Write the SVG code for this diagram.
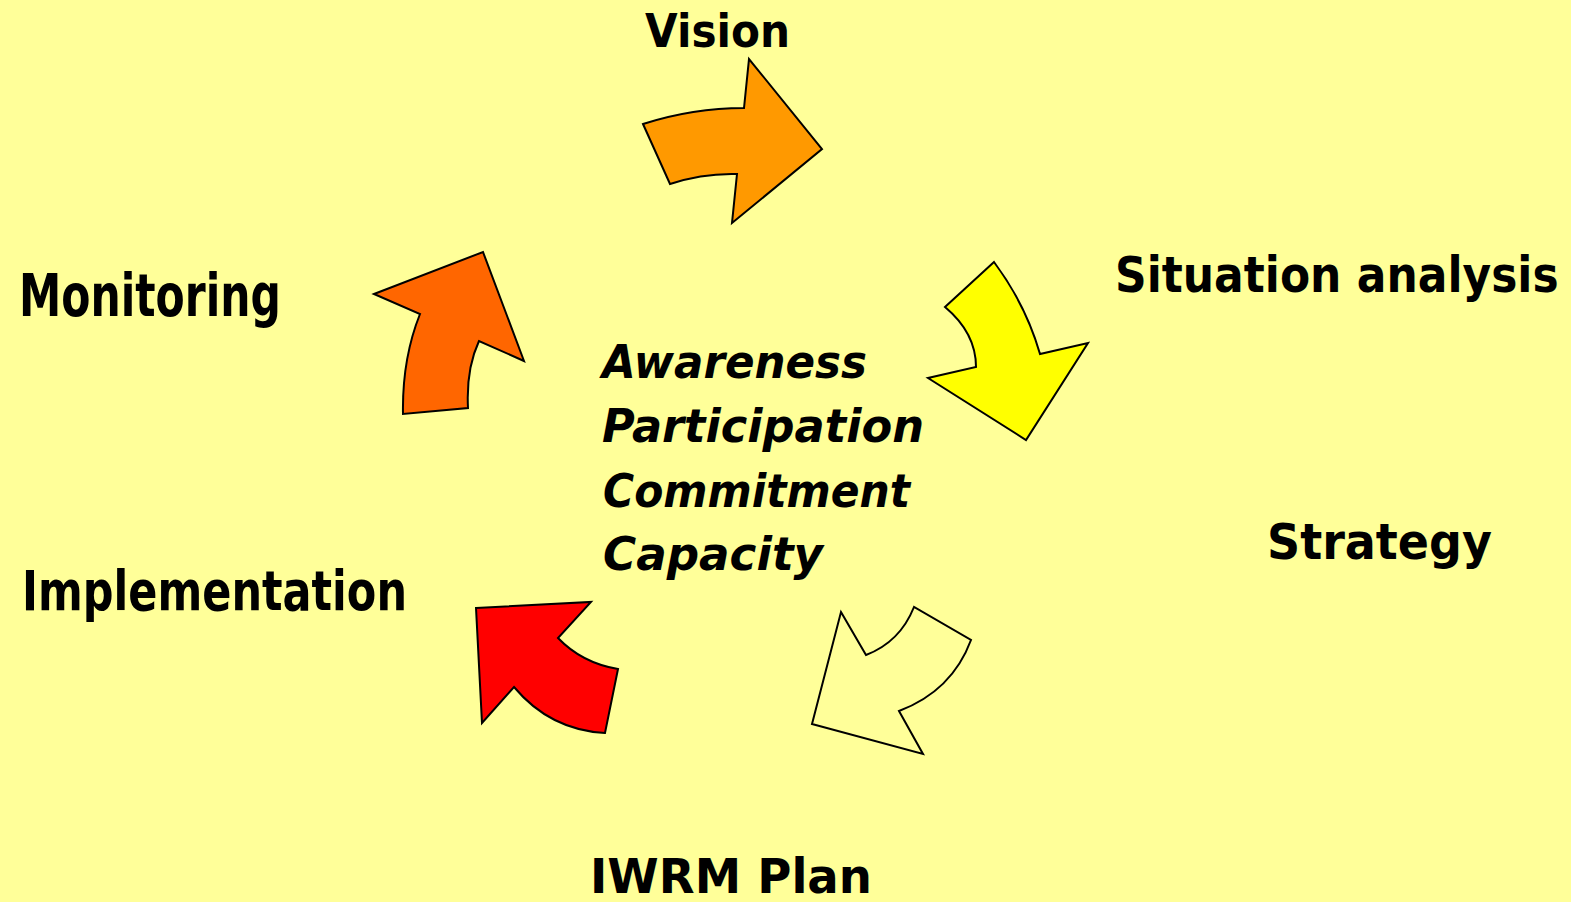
<svg xmlns="http://www.w3.org/2000/svg" width="1571" height="902" viewBox="0 0 1571 902">
<style>
.arr{stroke:#000;stroke-width:2;stroke-linejoin:miter}
.lbl{font-family:"DejaVu Sans","Liberation Sans",sans-serif;font-weight:bold;fill:#000}
.it{font-family:"DejaVu Sans","Liberation Sans",sans-serif;font-weight:bold;font-style:italic;fill:#000;font-size:46px}
</style>
<rect x="0" y="0" width="1571" height="902" fill="#FFFF99"/>
<g id="connectors">
<path id="arrow-vision" class="arr" fill="#FF9900" d="M643,124 Q693,108 744,108 L749,59 L822,149 L732,223 L737,174 Q703,173 670,184 Z"/>
<path id="arrow-situation" class="arr" fill="#FFFF00" d="M994,262 Q1026,305 1040,354 L1088,343 L1026,440 L928,378 L976,367 Q976,333 945,307 Z"/>
<path id="arrow-strategy" class="arr" fill="none" d="M841,612 L866,655 Q900,642 914,607 L971,640 Q952,691 899,711 L923,754 L812,724 Z"/>
<path id="arrow-plan" class="arr" fill="#FF0000" d="M476,608 L591,602 L558,638 Q582,663 618,669 L605,733 Q550,730 514,687 L482,723 Z"/>
<path id="arrow-implementation" class="arr" fill="#FF6600" d="M374,294 L483,252 L524,361 L479,341 Q466,369 468,408 L403,414 Q402,359 420,314 Z"/>
</g>
<g id="node-vision"><text class="lbl" x="645" y="47" font-size="46.6" textLength="145" lengthAdjust="spacingAndGlyphs">Vision</text></g>
<g id="node-situation"><text class="lbl" transform="translate(1115,292) scale(1,1.12)" x="0" y="0" font-size="44">Situation analysis</text></g>
<g id="node-strategy"><text class="lbl" x="1267" y="559" font-size="49.5" textLength="225" lengthAdjust="spacingAndGlyphs">Strategy</text></g>
<g id="node-plan"><text class="lbl" x="590" y="893" font-size="48" textLength="282" lengthAdjust="spacingAndGlyphs">IWRM Plan</text></g>
<g id="node-implementation"><text class="lbl" x="22" y="610" font-size="55" textLength="385" lengthAdjust="spacingAndGlyphs">Implementation</text></g>
<g id="node-monitoring"><text class="lbl" x="19" y="316" font-size="58" textLength="262" lengthAdjust="spacingAndGlyphs">Monitoring</text></g>
<g id="node-center">
<text class="it" x="602" y="378" textLength="265" lengthAdjust="spacingAndGlyphs">Awareness</text>
<text class="it" x="602" y="442" textLength="322" lengthAdjust="spacingAndGlyphs">Participation</text>
<text class="it" x="603" y="507" textLength="307" lengthAdjust="spacingAndGlyphs">Commitment</text>
<text class="it" x="603" y="570" textLength="220" lengthAdjust="spacingAndGlyphs">Capacity</text>
</g>
</svg>
